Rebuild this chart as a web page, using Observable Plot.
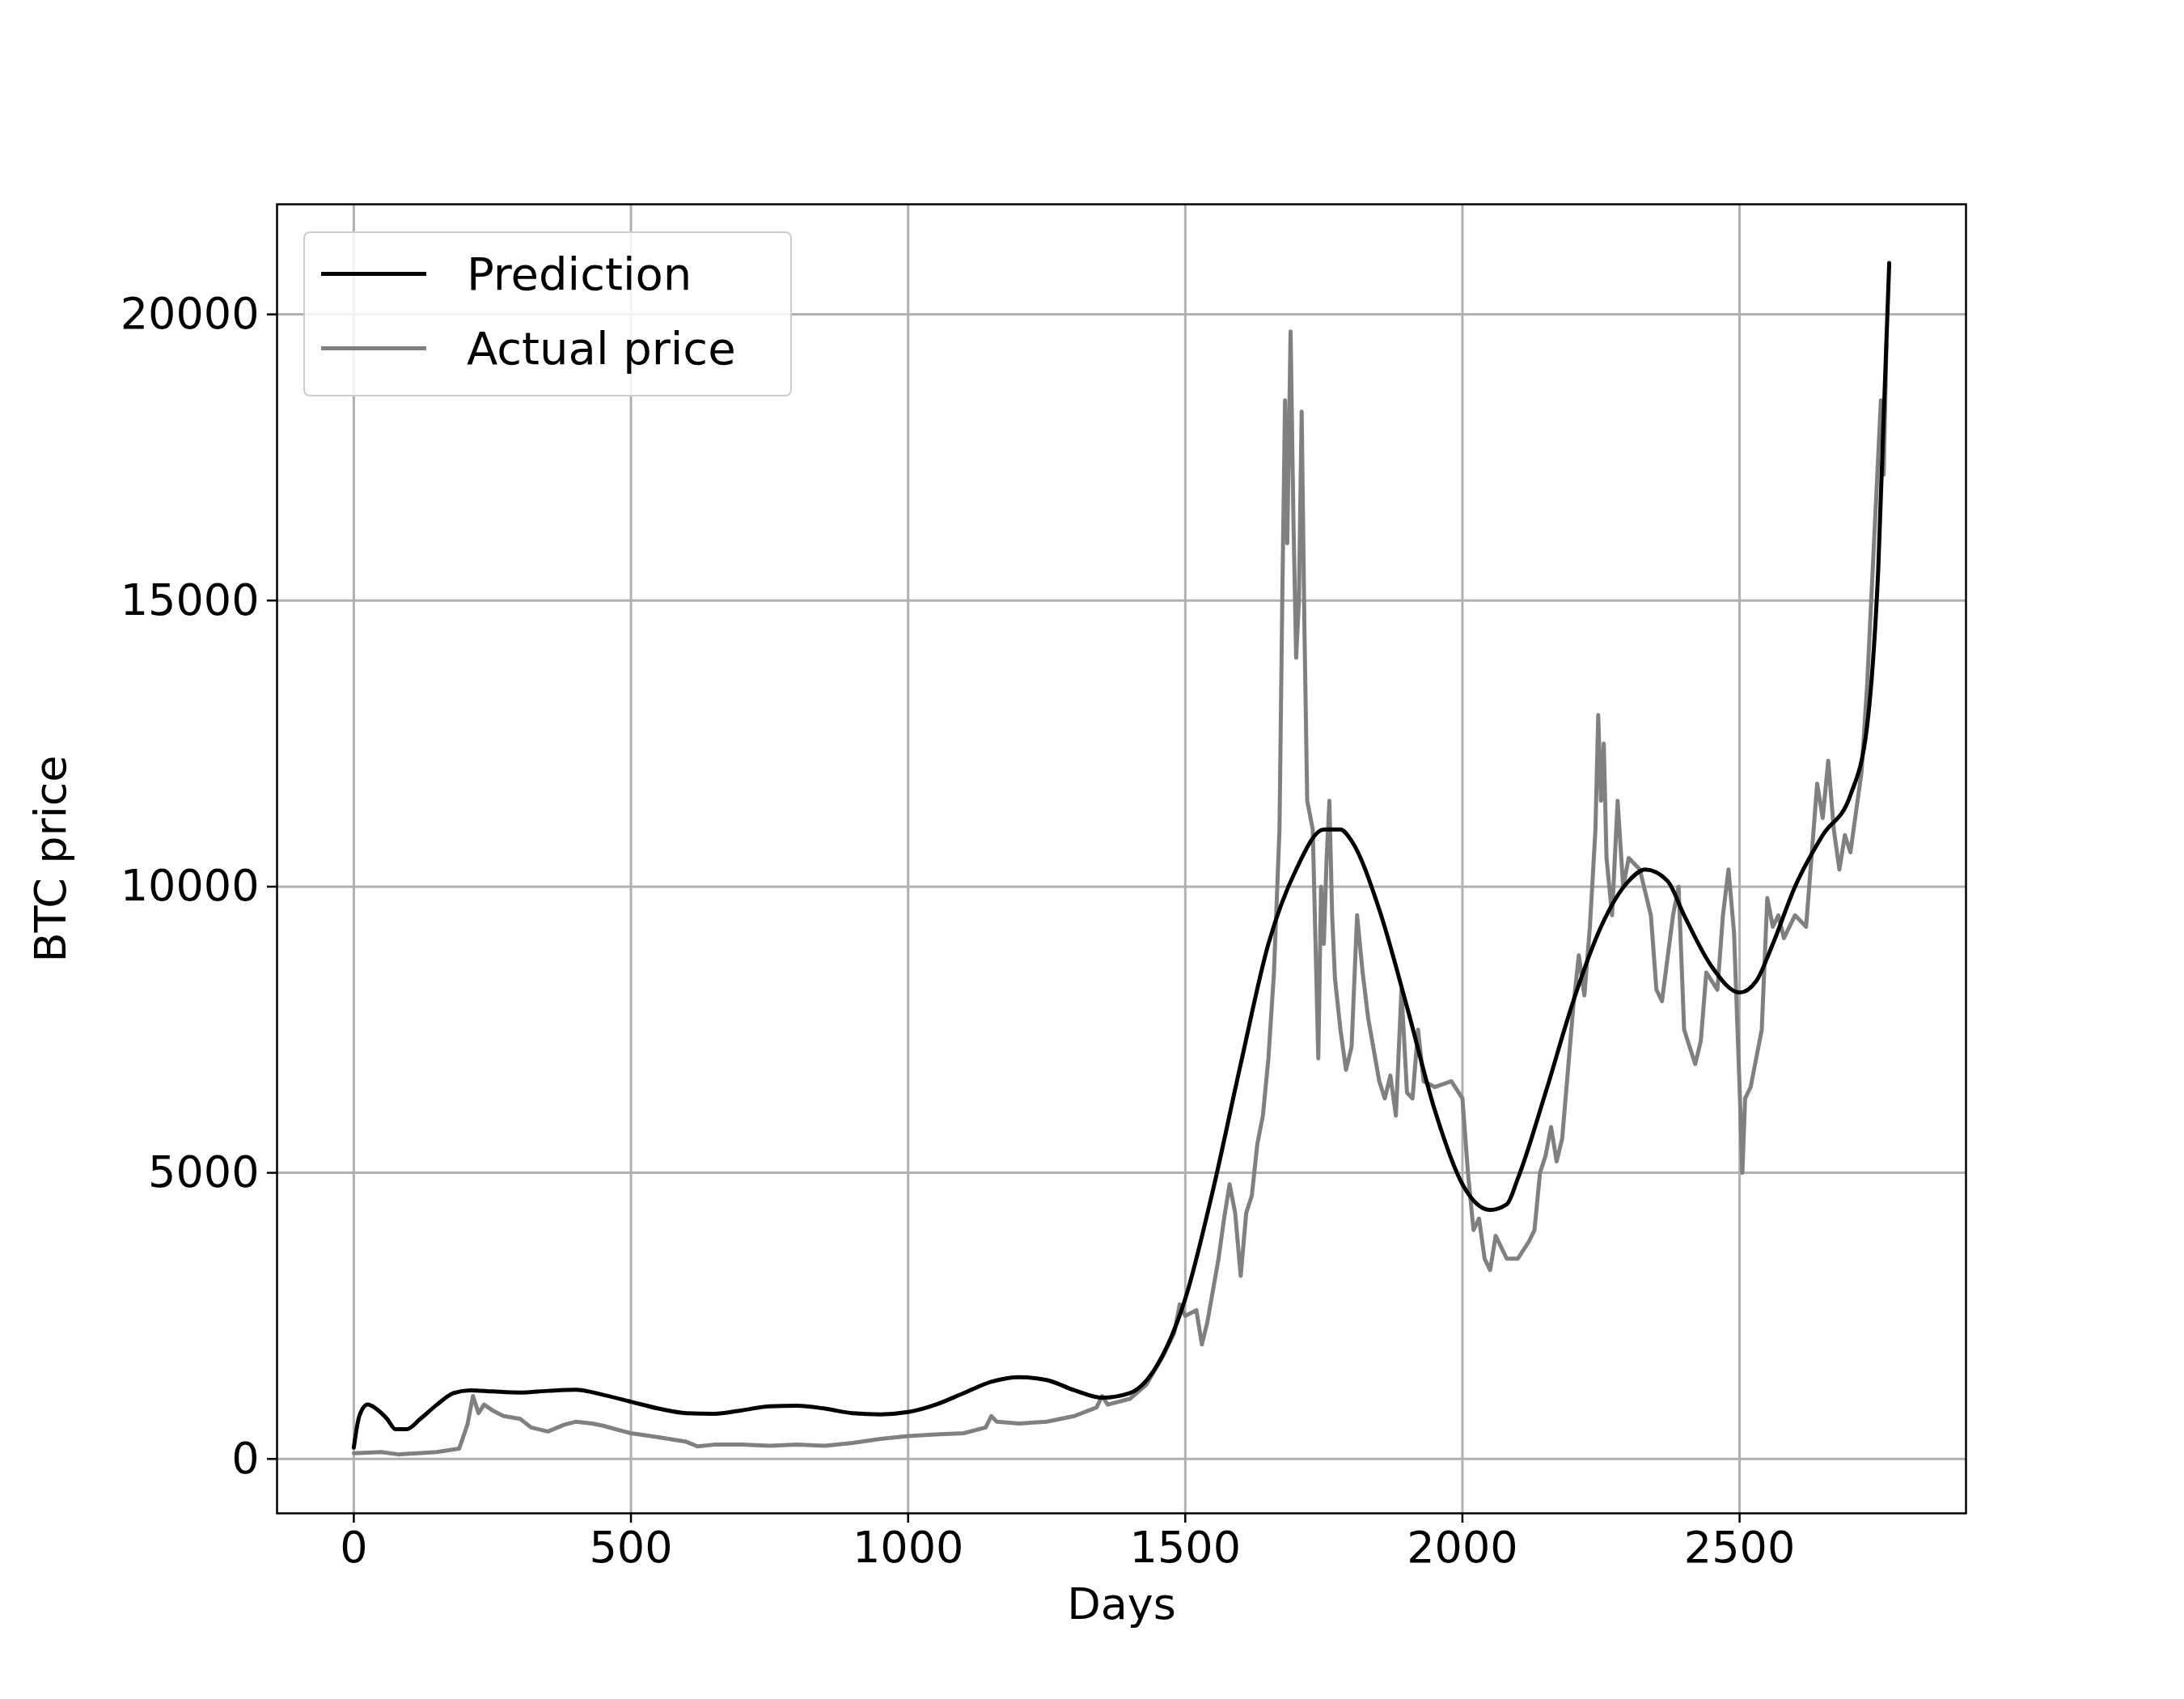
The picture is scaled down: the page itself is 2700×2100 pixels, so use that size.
<!DOCTYPE html>
<html><head><meta charset="utf-8">
<script src="https://cdn.jsdelivr.net/npm/d3@7"></script>
<script src="https://cdn.jsdelivr.net/npm/@observablehq/plot@0.6"></script>
<style>
body{margin:0;background:#fff;font-family:"DejaVu Sans",sans-serif;overflow:hidden}
#wrap{position:relative;width:2700px;height:2100px}
#legend{position:absolute;left:375px;top:286px;width:600px;height:200px;border:2px solid #ccc;border-radius:8px;background:rgba(255,255,255,0.85);font-size:56px}
.row{position:absolute;left:20px;display:flex;align-items:center}
.sw{width:130px;height:0;border-top:5px solid;margin-right:50px}
</style></head><body>
<div id="wrap"><div id="chart"></div>
<div id="legend">
<div class="row" style="top:18px"><div class="sw" style="border-color:#000"></div>Prediction</div>
<div class="row" style="top:110px"><div class="sw" style="border-color:#808080"></div>Actual price</div>
</div></div>
<script>
const predDays = [0,10,25,40,60,75,95,120,150,180,210,250,300,350,400,450,500,550,600,650,700,750,800,850,900,950,1000,1050,1100,1150,1200,1250,1300,1350,1400,1450,1500,1550,1600,1650,1700,1750,1780,1800,1850,1900,1950,2000,2050,2080,2100,2150,2200,2250,2300,2330,2370,2400,2450,2500,2530,2560,2600,2650,2700,2730,2750,2770];
const predVals = [200,750,950,880,700,520,520,700,950,1150,1200,1180,1160,1190,1210,1120,1000,880,800,790,850,920,930,880,800,780,820,950,1150,1350,1430,1380,1200,1070,1150,1650,2800,4700,6900,9000,10300,11000,11000,10800,9600,7900,6100,4800,4350,4450,4900,6400,8000,9300,10100,10300,10100,9500,8600,8150,8350,9000,10000,10900,11600,12800,15500,20900];
const actDays = [0,50,80,150,190,205,215,225,235,250,270,300,320,350,380,400,430,450,480,500,550,600,620,650,700,750,800,850,900,950,1000,1050,1100,1140,1150,1160,1200,1250,1300,1340,1350,1360,1400,1430,1460,1480,1490,1500,1520,1530,1540,1560,1570,1580,1590,1600,1610,1620,1630,1640,1650,1660,1670,1675,1680,1684,1690,1695,1700,1705,1710,1715,1720,1730,1740,1745,1750,1755,1760,1765,1770,1780,1790,1800,1810,1820,1830,1850,1860,1870,1880,1890,1900,1910,1920,1930,1950,1980,2000,2010,2020,2030,2040,2050,2060,2070,2080,2100,2120,2130,2140,2150,2160,2170,2180,2200,2210,2220,2230,2240,2245,2250,2255,2260,2270,2280,2290,2300,2320,2340,2350,2360,2380,2390,2400,2410,2420,2430,2440,2460,2470,2480,2490,2500,2505,2510,2520,2530,2540,2550,2560,2570,2580,2600,2620,2640,2650,2660,2670,2680,2690,2700,2720,2730,2740,2750,2755,2760,2765];
const actVals = [100,120,80,120,180,600,1100,800,950,850,750,700,550,480,600,650,620,580,500,450,380,300,220,250,250,230,250,230,280,350,400,430,450,550,750,650,620,650,750,900,1100,950,1050,1300,1800,2200,2700,2500,2600,2000,2400,3500,4200,4800,4300,3200,4300,4600,5500,6000,7000,8500,11000,15000,18500,16000,19700,16500,14000,15000,18300,14500,11500,11000,7000,10000,9000,10500,11500,9500,8400,7500,6800,7200,9500,8500,7700,6600,6300,6700,6000,8200,6400,6300,7500,6600,6500,6600,6300,5000,4000,4200,3500,3300,3900,3700,3500,3500,3800,4000,5000,5300,5800,5200,5600,7900,8800,8100,9300,11000,13000,11500,12500,10500,9500,11500,10000,10500,10300,9500,8200,8000,9500,10000,7500,7200,6900,7300,8500,8200,9500,10300,9200,6500,5000,6300,6500,7000,7500,9800,9300,9500,9100,9500,9300,11800,11200,12200,11000,10300,10900,10600,12000,13500,15500,17500,18500,17200,19500];
const xTicks = [0,500,1000,1500,2000,2500];
const yTicks = [0,5000,10000,15000,20000];

const pred = predDays.map((d,i)=>({d, v: predVals[i]}));
const act = actDays.map((d,i)=>({d, v: actVals[i]}));

const chart = Plot.plot({
  width: 2700, height: 2100,
  marginLeft: 342, marginRight: 270, marginTop: 252, marginBottom: 230,
  style: {fontFamily: "DejaVu Sans, sans-serif", fontSize: "54px", color: "#000", background: "#fff"},
  x: {domain: [-138.5, 2908.5]},
  y: {domain: [-950, 21924]},
  marks: [
    Plot.gridX(xTicks, {stroke: "#b0b0b0", strokeOpacity: 1, strokeWidth: 3}),
    Plot.gridY(yTicks, {stroke: "#b0b0b0", strokeOpacity: 1, strokeWidth: 3}),
    Plot.line(act, {x: "d", y: "v", stroke: "#808080", strokeWidth: 5}),
    Plot.line(pred, {x: "d", y: "v", stroke: "#000", strokeWidth: 5, curve: "monotone-x"}),
    Plot.frame({stroke: "#000", strokeWidth: 2.5}),
    Plot.axisX(xTicks, {tickSize: 12, tickPadding: 10, fontSize: 54, strokeWidth: 2.5, tickFormat: d3.format("d"), label: "Days", labelAnchor: "center", labelArrow: "none", labelOffset: 130}),
    Plot.axisY(yTicks, {tickSize: 12, tickPadding: 10, fontSize: 54, strokeWidth: 2.5, tickFormat: d3.format("d"), label: "BTC price", labelAnchor: "center", labelArrow: "none", labelOffset: 300})
  ]
});
document.getElementById("chart").appendChild(chart);
</script></body></html>
